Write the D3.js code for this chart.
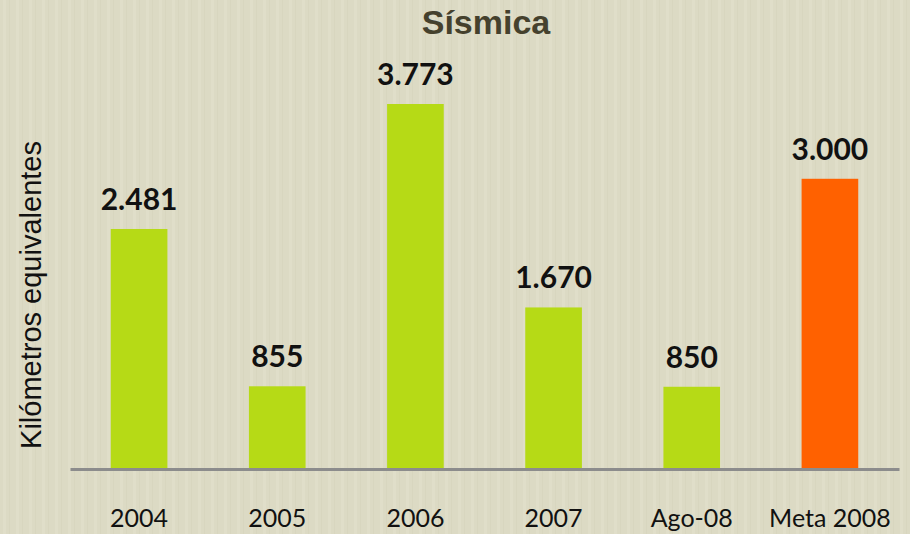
<!DOCTYPE html>
<html>
<head>
<meta charset="utf-8">
<script src="https://cdn.jsdelivr.net/npm/d3@7"></script>
<style>
  body { margin: 0; background: #dcdac4; }
  svg { display: block; }
</style>
</head>
<body>
<script>
var categories = ['2004', '2005', '2006', '2007', 'Ago-08', 'Meta 2008']
var values = [2481, 855, 3773, 1670, 850, 3000]
var labels = ['2.481', '855', '3.773', '1.670', '850', '3.000']
var isGoal = [false, false, false, false, false, true]

var W = 910
var H = 534
var base = 469

var x = d3.scaleBand()
  .domain(categories)
  .range([70, 899])
  .paddingInner(0.59)
  .paddingOuter(0.295)

var y = d3.scaleLinear()
  .domain([0, 3773])
  .range([base, 104])

var svg = d3.select('body').append('svg')
  .attr('width', W)
  .attr('height', H)

// faint vertical texture like the paper background
var defs = svg.append('defs')
var pat = defs.append('pattern')
  .attr('id', 'tex')
  .attr('width', 13)
  .attr('height', 40)
  .attr('patternUnits', 'userSpaceOnUse')
pat.append('rect').attr('width', 13).attr('height', 40).attr('fill', '#dcdac4')
pat.append('rect').attr('x', 3).attr('width', 3).attr('height', 40).attr('fill', '#e0dec9')
pat.append('rect').attr('x', 9).attr('width', 1).attr('height', 40).attr('fill', '#d8d6bf')

svg.append('rect')
  .attr('width', W)
  .attr('height', H)
  .attr('fill', 'url(#tex)')

svg.append('text')
  .attr('x', 486)
  .attr('y', 34)
  .attr('text-anchor', 'middle')
  .style('font-family', '"Liberation Sans", Arial, sans-serif')
  .style('font-weight', 'bold')
  .style('font-size', '34px')
  .style('fill', '#45412d')
  .text('Sísmica')

svg.append('text')
  .attr('transform', 'translate(41,' + 295 + ') rotate(-90)')
  .attr('text-anchor', 'middle')
  .style('font-family', '"Liberation Sans", Arial, sans-serif')
  .style('font-size', '29px')
  .style('fill', '#111')
  .text('Kilómetros equivalentes')

svg.selectAll('.bar')
  .data(values)
  .enter().append('rect')
  .attr('class', 'bar')
  .attr('x', function (d, i) { return x(categories[i]) })
  .attr('y', function (d) { return y(d) })
  .attr('width', x.bandwidth())
  .attr('height', function (d) { return base - y(d) })
  .attr('fill', function (d, i) { return isGoal[i] ? '#ff6100' : '#b6da16' })

svg.selectAll('.val')
  .data(values)
  .enter().append('text')
  .attr('class', 'val')
  .attr('x', function (d, i) { return x(categories[i]) + x.bandwidth() / 2 })
  .attr('y', function (d) { return y(d) - 19 })
  .attr('text-anchor', 'middle')
  .style('font-family', 'Lato, "Open Sans", sans-serif')
  .style('font-weight', 'bold')
  .style('font-size', '30px')
  .style('fill', '#111')
  .text(function (d, i) { return labels[i] })

var xAxis = d3.axisBottom(x).tickSize(0).tickPadding(0)

var gx = svg.append('g')
  .attr('transform', 'translate(0,' + base + ')')
  .call(xAxis)

gx.select('.domain')
  .attr('stroke', '#8c8c8c')
  .attr('stroke-width', 3)

gx.selectAll('.tick text')
  .attr('y', 58)
  .attr('dy', 0)
  .style('font-family', 'Lato, "Open Sans", sans-serif')
  .style('font-size', '25px')
  .style('fill', '#111')
</script>
</body>
</html>
